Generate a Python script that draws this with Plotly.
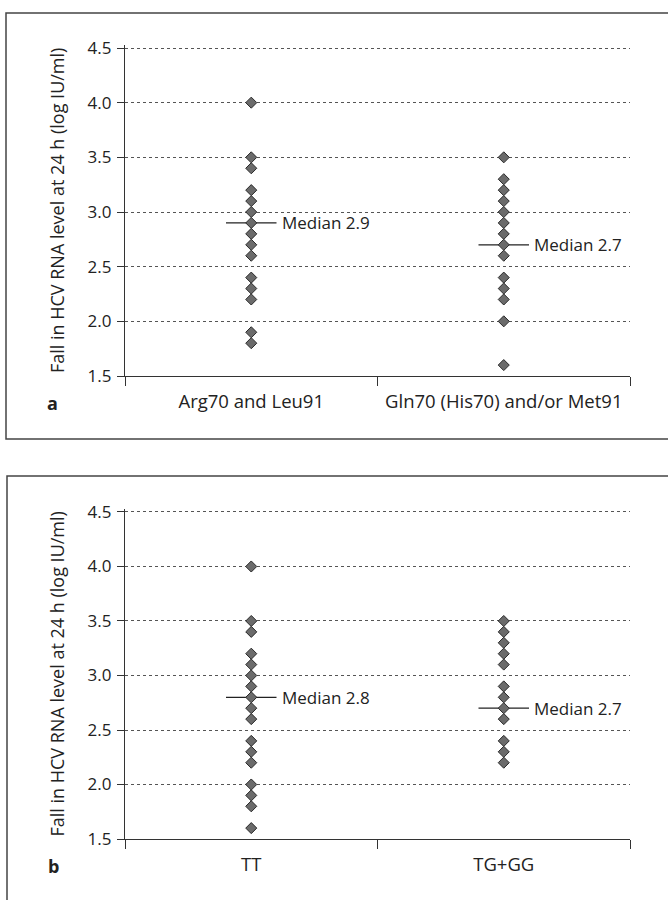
import plotly.graph_objects as go

# ---- data ----
cats_a = ["Arg70 and Leu91", "Gln70 (His70) and/or Met91"]
vals_a1 = [4.0, 3.5, 3.4, 3.2, 3.1, 3.0, 2.9, 2.8, 2.7, 2.6, 2.4, 2.3, 2.2, 1.9, 1.8]
vals_a2 = [3.5, 3.3, 3.2, 3.1, 3.0, 2.9, 2.8, 2.7, 2.6, 2.4, 2.3, 2.2, 2.0, 1.6]
medians_a = [2.9, 2.7]

cats_b = ["TT", "TG+GG"]
vals_b1 = [4.0, 3.5, 3.4, 3.2, 3.1, 3.0, 2.9, 2.8, 2.7, 2.6, 2.4, 2.3, 2.2, 2.0, 1.9, 1.8, 1.6]
vals_b2 = [3.5, 3.4, 3.3, 3.2, 3.1, 2.9, 2.8, 2.7, 2.6, 2.4, 2.3, 2.2]
medians_b = [2.8, 2.7]

y_title = "Fall in HCV RNA level at 24 h (log IU/ml)"
FONT = "Open Sans"
W, H = 668, 900
TXT = "#222222"

fig = go.Figure()

marker = dict(symbol="diamond", size=8.5, color="#6b6b6b", line=dict(color="#2a2a2a", width=1))

def add_panel(xa, ya, groups, medians):
    for i, vals in enumerate(groups):
        xc = i + 0.5
        fig.add_trace(go.Scatter(x=[xc - 0.1, xc + 0.1], y=[medians[i]] * 2, mode="lines",
                                 line=dict(color="#222222", width=1.3), xaxis=xa, yaxis=ya,
                                 showlegend=False, hoverinfo="skip"))
        fig.add_trace(go.Scatter(x=[xc] * len(vals), y=vals, mode="markers", marker=marker,
                                 xaxis=xa, yaxis=ya, showlegend=False))
        fig.add_annotation(x=xc + 0.1, y=medians[i], xref=xa, yref=ya, text=f"Median {medians[i]:.1f}",
                           showarrow=False, xanchor="left", yanchor="middle", xshift=3,
                           font=dict(family=FONT, size=17, color=TXT))

add_panel("x", "y", [vals_a1, vals_a2], medians_a)
add_panel("x2", "y2", [vals_b1, vals_b2], medians_b)

PX_PER_UNIT = 328 / 3.0
EXT = 0.03  # small headroom so the 4.5 gridline is drawn
xdom = [125 / W, 630 / W]
ydom_a = [1 - 376 / H, 1 - (48 - EXT * PX_PER_UNIT) / H]
ydom_b = [1 - 839 / H, 1 - (512 - EXT * PX_PER_UNIT) / H]

def xaxis_cfg(cats, anchor):
    return dict(domain=xdom, range=[0, 2], anchor=anchor, showgrid=False, zeroline=False,
                automargin=False,
                showline=True, linecolor="#333333", linewidth=1.2,
                tickvals=[0.5, 1.5], ticktext=cats, ticks="", ticklen=0, ticklabelstandoff=9,
                tickfont=dict(family=FONT, size=18.5, color=TXT),
                minor=dict(tick0=0, dtick=1, ticks="outside", ticklen=9, tickcolor="#333333", showgrid=False),
                fixedrange=True)

def yaxis_cfg(dom, anchor):
    return dict(domain=dom, range=[1.5, 4.5 + EXT], anchor=anchor, tickvals=[1.5, 2.0, 2.5, 3.0, 3.5, 4.0, 4.5],
                tickformat=".1f",
                automargin=False,
                showgrid=True, gridcolor="#555555", griddash="dot", gridwidth=1,
                zeroline=False, showline=True, linecolor="#333333", linewidth=1.2,
                ticks="outside", ticklen=7, tickcolor="#333333", ticklabelstandoff=2,
                tickfont=dict(family=FONT, size=17, color=TXT),
                title=dict(text=y_title, font=dict(family=FONT, size=18, color=TXT), standoff=18),
                fixedrange=True)

fig.update_layout(
    width=W, height=H,
    margin=dict(l=0, r=0, t=0, b=0),
    paper_bgcolor="white", plot_bgcolor="white",
    xaxis=xaxis_cfg(cats_a, "y"),
    yaxis=yaxis_cfg(ydom_a, "x"),
    xaxis2=xaxis_cfg(cats_b, "y2"),
    yaxis2=yaxis_cfg(ydom_b, "x2"),
)

# panel frames
fig.add_shape(type="rect", xref="paper", yref="paper", x0=6 / W, x1=1.01, y0=1 - 439 / H, y1=1 - 13 / H,
              line=dict(color="#444444", width=1.5))
fig.add_shape(type="rect", xref="paper", yref="paper", x0=7 / W, x1=1.01, y0=-0.01, y1=1 - 476 / H,
              line=dict(color="#444444", width=1.5))

# panel letters
fig.add_annotation(x=52 / W, y=1 - 403 / H, xref="paper", yref="paper", text="<b>a</b>", showarrow=False,
                   xanchor="center", yanchor="middle", font=dict(family=FONT, size=18, color=TXT))
fig.add_annotation(x=53 / W, y=1 - 866 / H, xref="paper", yref="paper", text="<b>b</b>", showarrow=False,
                   xanchor="center", yanchor="middle", font=dict(family=FONT, size=18, color=TXT))

fig.write_html("out.html", config={"displayModeBar": False},
               post_script="document.body.style.margin='0';document.body.style.overflow='hidden';")
